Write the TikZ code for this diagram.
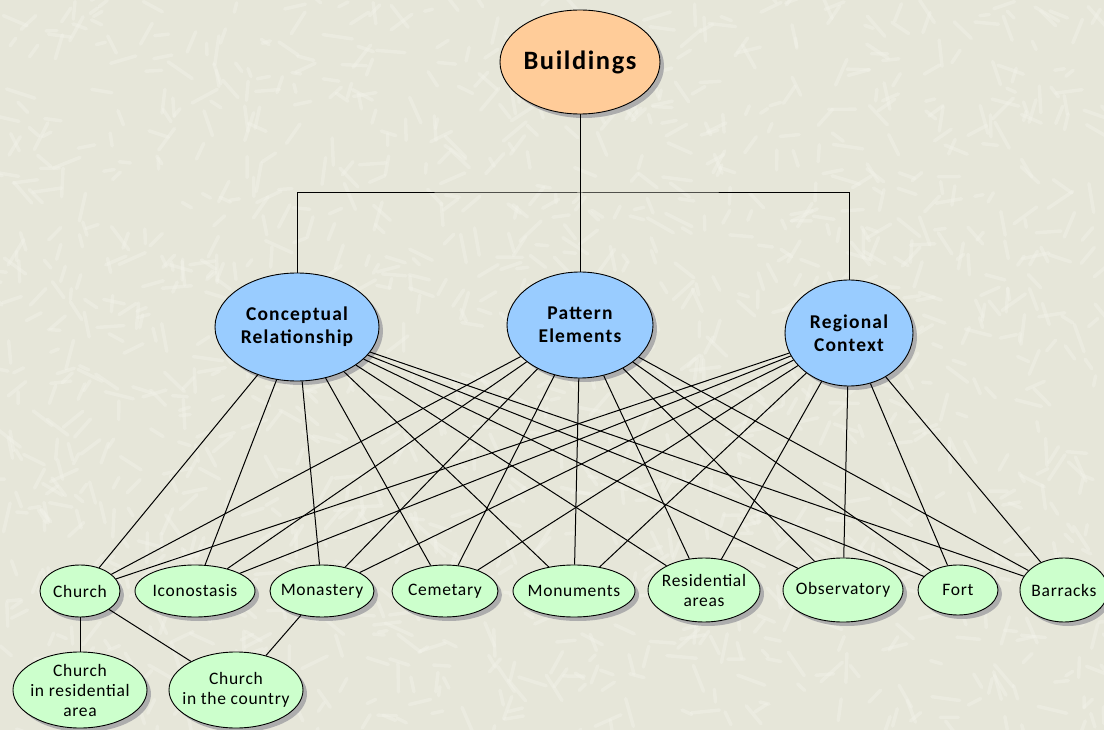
\documentclass[tikz,border=0pt]{standalone}
\usepackage{fontspec}
\setmainfont{Carlito}
\newfontfamily\headfont[LetterSpace=6]{Carlito}
\newfontfamily\leaffont[LetterSpace=4]{Carlito}
\usetikzlibrary{shapes.geometric,shadows}

\definecolor{bgcol}{HTML}{E6E6D9}
\definecolor{grain}{HTML}{F4F4EC}
\definecolor{rootfill}{HTML}{FFCC99}
\definecolor{midfill}{HTML}{99CCFF}
\definecolor{leaffill}{HTML}{CCFFCC}

\begin{document}
\begin{tikzpicture}[x=1pt,y=-1pt,
  oval/.style={ellipse, draw=black, line width=0.9pt, inner ysep=0pt, inner xsep=-10pt, align=center,
    drop shadow={shadow xshift=4pt, shadow yshift=-4pt, fill=black!32, opacity=1}},
  root/.style={oval, fill=rootfill, font=\headfont\bfseries\fontsize{26.5}{30}\selectfont},
  mid/.style={oval, fill=midfill, font=\headfont\bfseries\fontsize{19.5}{23}\selectfont},
  leaf/.style={oval, fill=leaffill, font=\leaffont\fontsize{17.5}{20}\selectfont},
  link/.style={draw=black, line width=1pt}]

% paper background with soft grain strokes
\fill[bgcol] (0,0) rectangle (1104,730);
\useasboundingbox (0,0) rectangle (1104,730);
\pgfmathsetseed{42}
\foreach \i in {1,...,1400}{
  \pgfmathsetmacro\px{rnd*1104}
  \pgfmathsetmacro\py{rnd*730}
  \pgfmathsetmacro\pa{rnd*360}
  \pgfmathsetmacro\pl{8+rnd*22}
  \draw[grain, opacity=0.38, line width=3.5pt, line cap=round] (\px,\py) -- ++(\pa:\pl);
}

% top level
\node[root, minimum width=160pt, minimum height=104pt] (bld) at (580,62) {Buildings};

% second level
\node[mid, minimum width=164pt, minimum height=108pt] (con) at (297,327) {Conceptual\\Relationship};
\node[mid, minimum width=146pt, minimum height=106pt] (pat) at (580,325) {Pattern\\Elements};
\node[mid, minimum width=128pt, minimum height=106pt] (reg) at (849,333) {Regional\\Context};

% third level
\node[leaf, minimum width=80pt,  minimum height=52pt] (chu) at (80,591)   {Church};
\node[leaf, minimum width=120pt, minimum height=52pt] (ico) at (195,591)  {Iconostasis};
\node[leaf, minimum width=104pt, minimum height=52pt] (mon) at (322,591)  {Monastery};
\node[leaf, minimum width=106pt, minimum height=52pt] (cem) at (445,591)  {Cemetary};
\node[leaf, minimum width=122pt, minimum height=52pt] (mnu) at (574,591)  {Monuments};
\node[leaf, minimum width=112pt, minimum height=64pt] (res) at (704,590)  {Residential\\areas};
\node[leaf, minimum width=120pt, minimum height=64pt] (obs) at (843,590)  {Observatory};
\node[leaf, minimum width=80pt,  minimum height=50pt] (frt) at (958,590)  {Fort};
\node[leaf, minimum width=88pt,  minimum height=64pt] (bar) at (1064,590) {Barracks};

% fourth level
\node[leaf, minimum width=134pt, minimum height=76pt] (cra) at (80,690)  {Church\\in residential\\area};
\node[leaf, minimum width=134pt, minimum height=76pt] (ctc) at (236,690) {Church\\in the country};

% tree connector from the root
\coordinate (hub) at (580,193);
\draw[link] (bld.south) -- (hub);
\draw[link] (con.north) |- (hub) -| (reg.north);
\draw[link] (hub) -- (pat.north);

% every second-level node links to every third-level node
\foreach \m in {con,pat,reg}{
  \foreach \l in {chu,ico,mon,cem,mnu,res,obs,frt,bar}{
    \draw[link] (\m) -- (\l);
  }
}

% fourth-level links
\draw[link] (chu) -- (cra);
\draw[link] (chu) -- (ctc);
\draw[link] (mon) -- (ctc);
\end{tikzpicture}
\end{document}
